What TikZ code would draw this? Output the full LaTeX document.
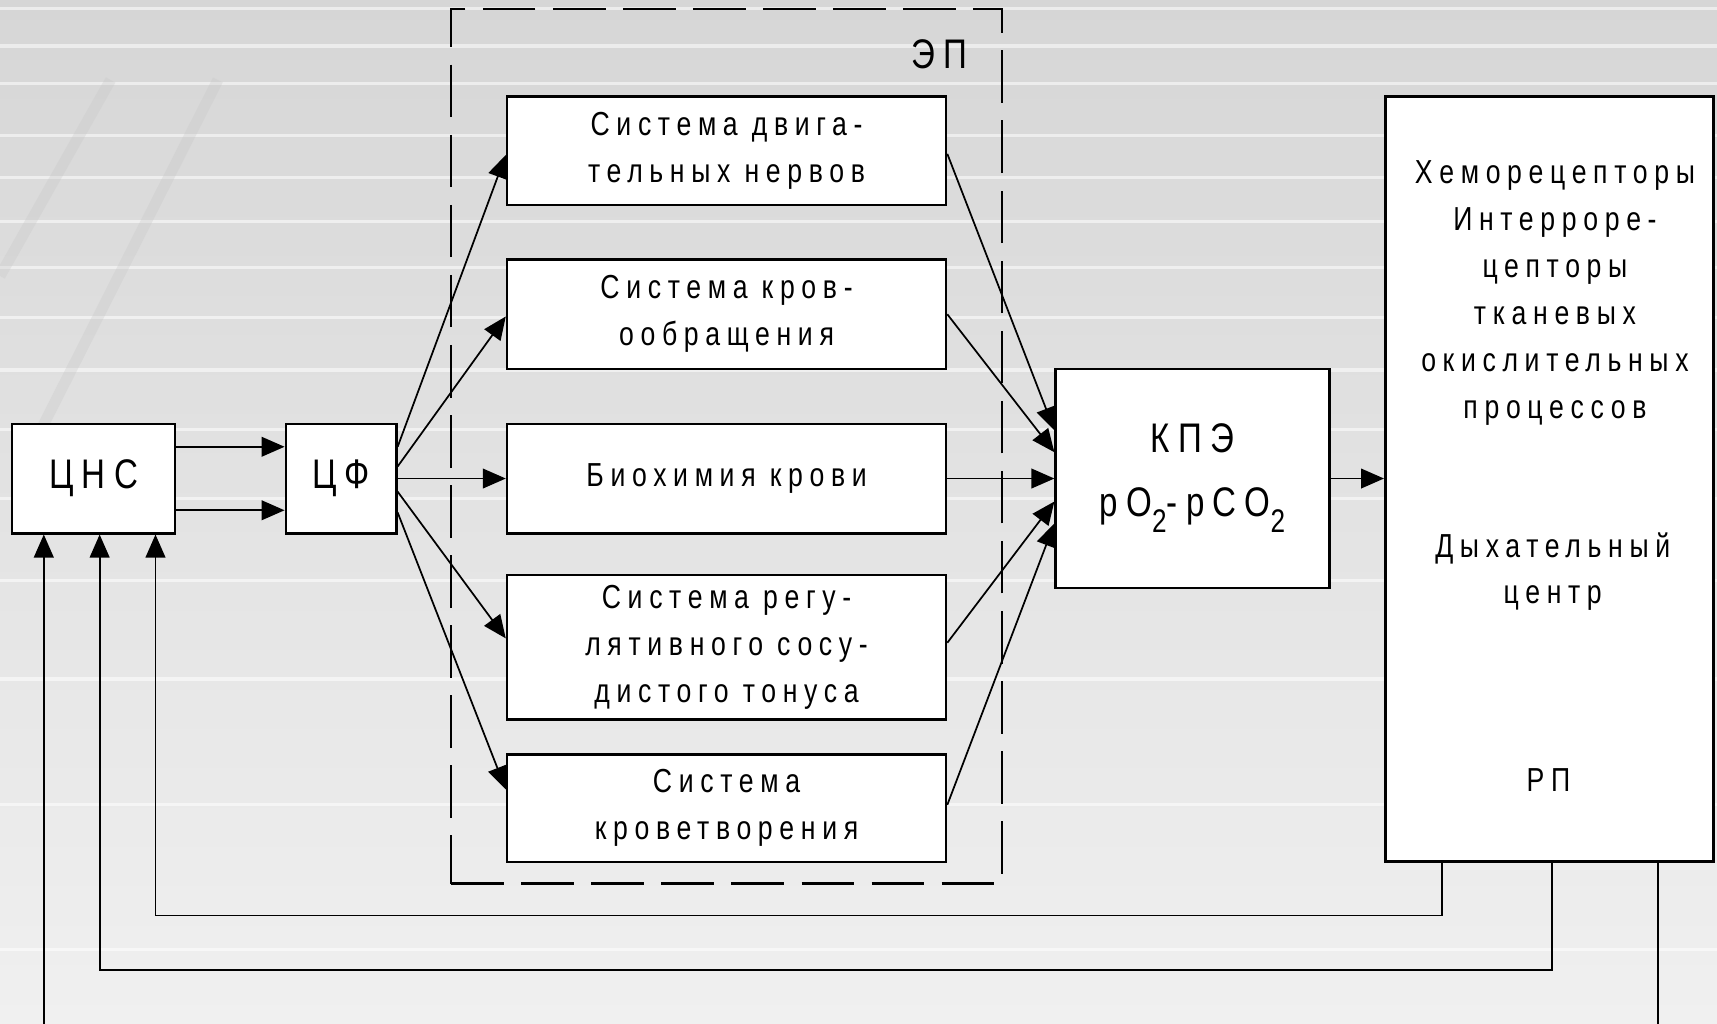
\documentclass[tikz,border=0pt]{standalone}
\usepackage{fontspec}
\newfontfamily\df[FakeStretch=0.8,LetterSpace=20]{Liberation Sans}
\usetikzlibrary{arrows.meta,calc}
\newcommand\subtwo{\raisebox{-0.4em}{\fontsize{17}{17}\selectfont 2}}
\definecolor{bgtop}{HTML}{D6D6D6}
\definecolor{bgbot}{HTML}{F0F0F0}
\begin{document}
\begin{tikzpicture}[x=0.02cm,y=-0.02cm,
  box/.style={draw,line width=1.3pt,fill=white,inner sep=0pt,align=center,
    font=\df\fontsize{17.3}{24.4}\selectfont},
  big/.style={font=\df\fontsize{21.5}{33}\selectfont},
  txt/.style={inner sep=0pt,align=center,font=\df\fontsize{17.3}{24.4}\selectfont},
  arr/.style={line width=0.9pt,-{Triangle[length=0.42cm,width=0.36cm]}},
  ln/.style={line width=0.9pt},
  stripe/.style={white,line width=0.06cm,opacity=0.55},
  dstripe/.style={gray!45,line width=0.2cm,opacity=0.3},
]
\useasboundingbox (0,0) rectangle (1568,935);
% background
\shade[top color=bgtop,bottom color=bgbot] (0,0) rectangle (1568,935);
\foreach \yy in {8,42,76,124,162,202,244,290,338,392,455,530,620,735,867}
  \draw[stripe] (0,\yy) -- (1568,\yy);
\draw[dstripe] (101,73) -- (0,252);
\draw[dstripe] (199,73) -- (24,419);

% dashed effector group
\node[draw,line width=1.3pt,dash pattern=on 0.96cm off 0.32cm,
  minimum width=10.06cm,minimum height=15.98cm,inner sep=0pt] (ep) at (663.5,407.5) {};
\node[big,inner sep=0pt] (eplabel) at (858,50) {ЭП};

% main blocks
\node[box,big,minimum width=2.98cm,minimum height=2cm] (cns) at (85.5,437) {ЦНС};
\node[box,big,minimum width=2.02cm,minimum height=2cm] (cf) at (311.5,437) {ЦФ};
\node[box,minimum width=8.02cm,minimum height=1.98cm] (b1) at (663.5,137.5) {Система двига-\\тельных нервов};
\node[box,minimum width=8.02cm,minimum height=2cm] (b2) at (663.5,287) {Система кров-\\ообращения};
\node[box,minimum width=8.02cm,minimum height=2cm] (b3) at (663.5,437) {Биохимия крови};
\node[box,minimum width=8.02cm,minimum height=2.64cm] (b4) at (663.5,591) {Система регу-\\лятивного сосу-\\дистого тонуса};
\node[box,minimum width=8.02cm,minimum height=1.96cm] (b5) at (663.5,738) {Система\\кроветворения};
\node[box,big,minimum width=5cm,minimum height=4cm] (kpe) at (1089,437) {КПЭ\\pO\subtwo-pCO\subtwo};
\node[box,minimum width=6cm,minimum height=13.98cm] (rp) at (1415,437.5) {};
\node[txt] (rt1) at (1420,267.5) {Хеморецепторы\\Интерроре-\\цепторы\\тканевых\\окислительных\\процессов};
\node[txt] (rt2) at (1418,522) {Дыхательный\\центр};
\node[txt] (rt3) at (1414,712) {РП};

% CNS -> CF
\draw[arr] ($(cns.east)+(0,-29)$) -- ($(cf.west)+(0,-29)$);
\draw[arr] ($(cns.east)+(0,29)$) -- ($(cf.west)+(0,29)$);

% fan out
\foreach \b/\s/\t in {b1/-29/4, b2/-11/2, b3/0/0, b4/12/-8, b5/31/-17}
  \draw[arr] ($(cf.east)+(0,\s)$) -- ($(\b.west)+(0,\t)$);
% fan in
\foreach \b/\s/\t in {b1/3/-44, b2/0/-24, b3/0/0, b4/-4/21, b5/-3/41}
  \draw[arr] ($(\b.east)+(0,\s)$) -- ($(kpe.west)+(0,\t)$);

% KPE -> RP
\draw[arr] (kpe.east) -- (rp.west |- kpe.east);

% feedback loops
\coordinate (v1) at (1317,836);
\coordinate (v1b) at (142,836);
\coordinate (v2) at (1417,886);
\coordinate (v2b) at (91,886);
\coordinate (v3) at (1514,935);
\coordinate (v3b) at (40,935);
\draw[arr] (rp.south -| v1) -- (v1) -- (v1b) -- (cns.south -| v1b);
\draw[arr] (rp.south -| v2) -- (v2) -- (v2b) -- (cns.south -| v2b);
\draw[ln] (rp.south -| v3) -- (v3);
\draw[arr] (v3b) -- (cns.south -| v3b);
\end{tikzpicture}
\end{document}
